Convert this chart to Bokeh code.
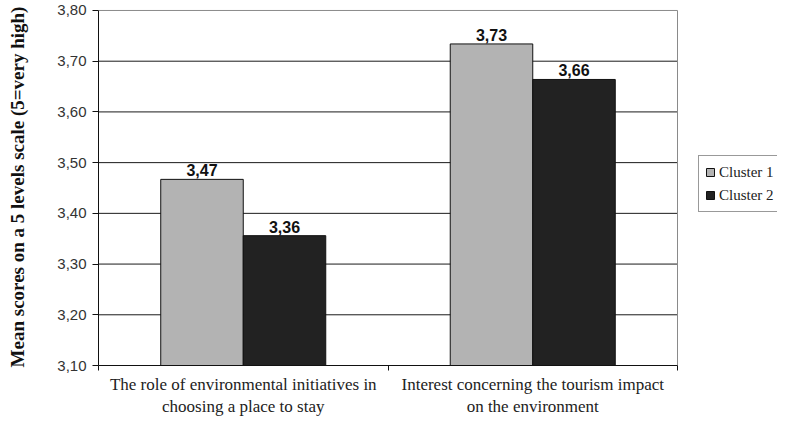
from bokeh.plotting import figure
from bokeh.models import (ColumnDataSource, FixedTicker, Legend, LegendItem,
                          Range1d, CustomJSTickFormatter)
from bokeh.core.properties import value
from bokeh.transform import dodge
from bokeh.embed import file_html
from bokeh.resources import INLINE

# ---- data ----
categories = ["The role of environmental initiatives in\nchoosing a place to stay",
              "Interest concerning the tourism impact\non the environment"]
series_names = ["Cluster 1", "Cluster 2"]
cluster1 = [3.467, 3.734]
cluster2 = [3.356, 3.664]
labels1 = ["3,47", "3,73"]
labels2 = ["3,36", "3,66"]
y_ticks = [3.10, 3.20, 3.30, 3.40, 3.50, 3.60, 3.70, 3.80]
y_title = "Mean scores on a 5 levels scale (5=very high)"

# ---- layout constants ----
W, H = 777, 419
B_LEFT, B_TOP, B_BOTTOM = 98, 8, 50
PLOT_PX = 579            # width of the plotting area (bars + grid)
PLOT_H_PX = 359          # height of y_min..y_max
FRAME_W = W - B_LEFT
FRAME_H = H - B_TOP - B_BOTTOM

n = len(categories)
y_min, y_max = y_ticks[0], y_ticks[-1]
xpos = [i + 0.5 for i in range(n)]
bounds = list(range(n + 1))
src = ColumnDataSource(dict(x=xpos, c1=cluster1, c2=cluster2, l1=labels1, l2=labels2))

x_end = n * FRAME_W / PLOT_PX
y_end = y_min + (y_max - y_min) * FRAME_H / PLOT_H_PX

BW = 0.285
p = figure(width=W, height=H,
           x_range=Range1d(0, x_end), y_range=Range1d(y_min, y_end),
           output_backend="svg", toolbar_location=None,
           min_border_left=B_LEFT, min_border_right=0,
           min_border_top=B_TOP, min_border_bottom=B_BOTTOM)
p.outline_line_color = None
p.xgrid.visible = False
p.ygrid.visible = False

# grid lines and the plot-area border (drawn before bars)
inner = y_ticks[1:-1]
p.segment(x0=[0] * len(inner), x1=[n] * len(inner), y0=inner, y1=inner,
          line_color="#1a1a1a", line_width=1)
p.segment(x0=[0, n], x1=[n, n], y0=[y_max, y_min], y1=[y_max, y_max],
          line_color="#8a8a8a", line_width=1)

r1 = p.vbar(x=dodge('x', -BW / 2), top='c1', bottom=y_min, width=BW,
            fill_color="#b3b3b3", line_color="#111111", line_width=1, source=src)
r2 = p.vbar(x=dodge('x', BW / 2), top='c2', bottom=y_min, width=BW,
            fill_color="#222222", line_color="#111111", line_width=1, source=src)

for col, lab, off in (("c1", "l1", -BW / 2), ("c2", "l2", BW / 2)):
    p.text(x=dodge('x', off), y=col, text=lab, source=src,
           text_align="center", text_baseline="bottom", y_offset=-3,
           text_font=value("Liberation Sans"), text_font_style="bold",
           text_font_size="16px", text_color="#111111")

# y axis
p.yaxis.bounds = (y_min, y_max)
p.yaxis.ticker = FixedTicker(ticks=y_ticks)
p.yaxis.formatter = CustomJSTickFormatter(code="return tick.toFixed(2).replace('.', ',');")
p.yaxis.major_tick_in = 0
p.yaxis.major_tick_out = 6
p.yaxis.minor_tick_line_color = None
p.yaxis.axis_line_color = "#111111"
p.yaxis.major_tick_line_color = "#111111"
p.yaxis.major_label_text_font = "Liberation Sans"
p.yaxis.major_label_text_font_size = "15px"
p.yaxis.major_label_text_color = "#333333"
p.yaxis.major_label_standoff = 6
p.yaxis.axis_label = y_title
p.yaxis.axis_label_text_font = "Liberation Serif"
p.yaxis.axis_label_text_font_style = "bold"
p.yaxis.axis_label_text_font_size = "19px"
p.yaxis.axis_label_text_color = "#111111"
p.yaxis.axis_label_standoff = 26

# x axis
p.xaxis.bounds = (0, n)
p.xaxis.ticker = FixedTicker(ticks=xpos, minor_ticks=bounds)
p.xaxis.major_label_overrides = {x: c for x, c in zip(xpos, categories)}
p.xaxis.major_tick_line_color = None
p.xaxis.major_tick_in = 0
p.xaxis.major_tick_out = 5
p.xaxis.minor_tick_in = 0
p.xaxis.minor_tick_out = 5
p.xaxis.minor_tick_line_color = "#111111"
p.xaxis.axis_line_color = "#111111"
p.xaxis.major_label_text_font = "Liberation Serif"
p.xaxis.major_label_text_font_size = "17px"
p.xaxis.major_label_text_color = "#222222"
p.xaxis.major_label_standoff = 4

legend = Legend(items=[LegendItem(label=series_names[0], renderers=[r1]),
                       LegendItem(label=series_names[1], renderers=[r2])],
                location=(600, 153))
legend.label_text_font = "Liberation Serif"
legend.label_text_font_size = "15px"
legend.label_text_color = "#222222"
legend.glyph_width = 10
legend.glyph_height = 10
legend.label_height = 20
legend.label_standoff = 4
legend.padding = 6
legend.spacing = 3
legend.margin = 0
legend.border_line_color = "#333333"
legend.border_line_width = 1
legend.background_fill_color = "white"
legend.background_fill_alpha = 1
p.add_layout(legend)

open("out.html", "w").write(file_html(p, INLINE))
